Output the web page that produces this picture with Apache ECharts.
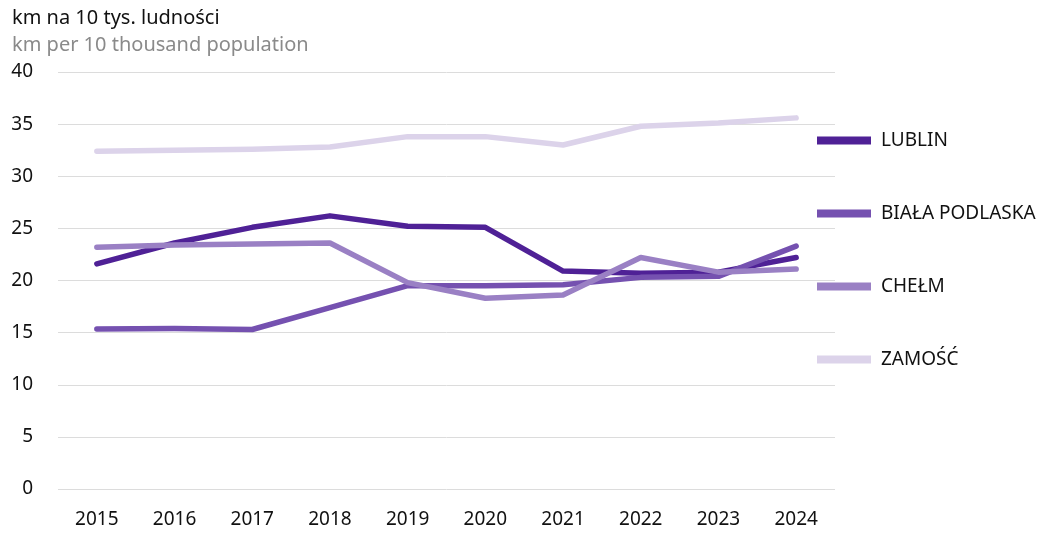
<!DOCTYPE html>
<html>
<head>
<meta charset="utf-8">
<script src="https://cdn.jsdelivr.net/npm/echarts@6/dist/echarts.min.js"></script>
<style>
  html, body { margin: 0; padding: 0; background: #fff; }
  #main { width: 1051px; height: 533px; }
</style>
</head>
<body>
<div id="main"></div>
<script>
// dane
const years = ['2015', '2016', '2017', '2018', '2019', '2020', '2021', '2022', '2023', '2024'];
const lublin = [21.6, 23.6, 25.1, 26.2, 25.2, 25.1, 20.9, 20.7, 20.8, 22.2];
const bialaPodlaska = [15.35, 15.4, 15.3, 17.4, 19.5, 19.5, 19.6, 20.3, 20.4, 23.3];
const chelm = [23.2, 23.4, 23.5, 23.6, 19.8, 18.3, 18.6, 22.2, 20.8, 21.1];
const zamosc = [32.4, 32.5, 32.6, 32.8, 33.8, 33.8, 33.0, 34.8, 35.1, 35.6];

const font = '"Noto Sans", sans-serif';
const myChart = echarts.init(document.getElementById('main'));

function line(name, data, color) {
    return {
        name: name,
        type: 'line',
        data: data,
        symbol: 'none',
        lineStyle: { width: 5.5, color: color, cap: 'round', join: 'round' },
        itemStyle: { color: color }
    };
}

myChart.setOption({
    animation: false,
    textStyle: { fontFamily: font },
    title: [
        { text: 'km na 10 tys. ludności', left: 7, top: 3,
          textStyle: { fontSize: 20, fontWeight: 'normal', color: '#111', fontFamily: font } },
        { text: 'km per 10 thousand population', left: 7, top: 30,
          textStyle: { fontSize: 20, fontWeight: 'normal', color: '#8a8a8a', fontFamily: font } }
    ],
    legend: {
        orient: 'vertical',
        left: 812,
        top: 126,
        itemGap: 54,
        itemWidth: 54,
        itemHeight: 8,
        icon: 'rect',
        textStyle: { fontSize: 19, color: '#111', padding: [0, 0, 0, 5], fontFamily: font },
        data: ['LUBLIN', 'BIAŁA PODLASKA', 'CHEŁM', 'ZAMOŚĆ']
    },
    grid: { left: 58, right: 216, top: 72, bottom: 44 },
    xAxis: {
        type: 'category',
        data: years,
        axisLine: { show: false },
        axisTick: { show: false },
        axisLabel: { fontSize: 19, color: '#111', margin: 21 }
    },
    yAxis: {
        type: 'value',
        min: 0,
        max: 40,
        interval: 5,
        axisLabel: { fontSize: 19, color: '#111', margin: 25 },
        splitLine: { lineStyle: { color: '#dcdcdc', width: 1 } }
    },
    series: [
        line('LUBLIN', lublin, '#4f2196'),
        line('BIAŁA PODLASKA', bialaPodlaska, '#7551b0'),
        line('CHEŁM', chelm, '#9a80c4'),
        line('ZAMOŚĆ', zamosc, '#dcd3ea')
    ]
});
window.onresize = myChart.resize;
</script>
</body>
</html>
